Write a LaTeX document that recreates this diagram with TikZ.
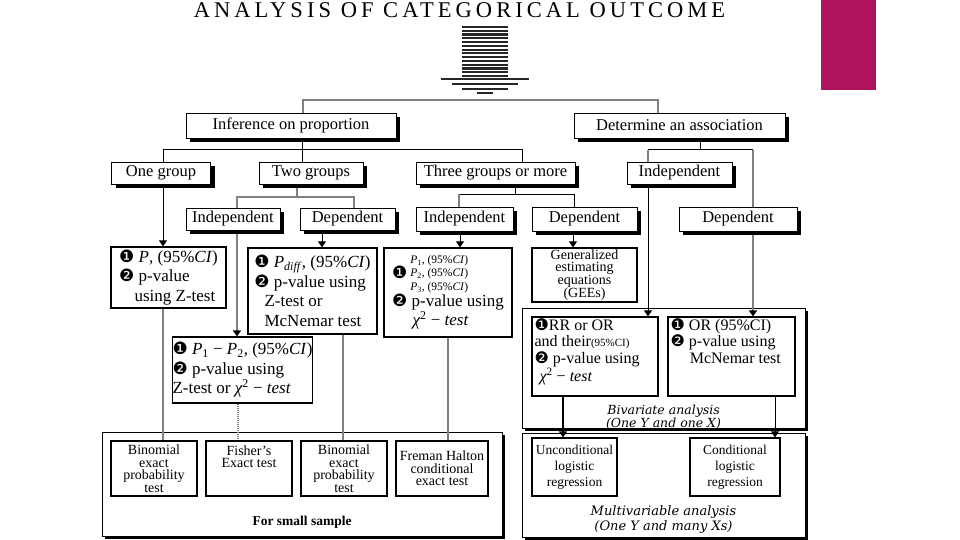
\documentclass[tikz,border=0pt]{standalone}
\usepackage{fontspec}
\setmainfont{Liberation Serif}
\newfontfamily\dej{DejaVu Sans}
\newfontfamily\dsi{DejaVu Serif}
\newfontfamily\ttl[LetterSpace=18]{Liberation Serif}
\usetikzlibrary{arrows.meta,shadows}
\definecolor{mag}{RGB}{176,19,94}
\pgfdeclarelayer{back}
\pgfdeclarelayer{mid}
\pgfsetlayers{back,mid,main}
\begin{document}
\begin{tikzpicture}[x=1pt,y=-1pt,
  lbl/.style={draw,fill=white,line width=0.8pt,inner sep=0pt,
    font=\fontsize{16.5}{19}\selectfont,
    drop shadow={shadow xshift=4pt,shadow yshift=-4pt,fill=black,opacity=1}},
  res/.style={draw,fill=white,line width=1.2pt,inner sep=0pt,align=left,
    font=\fontsize{17}{19.5}\selectfont},
  sm/.style={draw,fill=white,line width=1.2pt,inner sep=0pt,align=center,
    font=\fontsize{14}{12.5}\selectfont},
  cont/.style={draw,fill=white,line width=0.8pt,
    drop shadow={shadow xshift=3pt,shadow yshift=-3pt,fill=black,opacity=1}},
  txt/.style={inner sep=0pt,align=left},
  bline/.style={draw=black,line width=1pt},
  bthick/.style={draw=black,line width=2pt},
  gthick/.style={draw=gray,line width=2.8pt},
  gthin/.style={draw=gray,line width=1.4pt},
  gdot/.style={draw=gray,line width=2pt,dash pattern=on 1pt off 1pt},
  arr/.style={-{Triangle[width=8pt,length=6pt,color=black]}},
  stripe/.style={draw=black!85,line width=2.2pt}
]
\useasboundingbox (0,0) rectangle (960,540);
\begin{pgfonlayer}{back}
\fill[white] (0,0) rectangle (960,540);
\end{pgfonlayer}

% decoration
\fill[mag] (821,0) rectangle (876,90);
\node[font=\ttl\fontsize{22.5}{22.5}\selectfont,inner sep=0pt] (title) at (459.5,10) {ANALYSIS OF CATEGORICAL OUTCOME};
\foreach \k in {0,...,13}{\draw[stripe] (462,27+3.77*\k) -- (508,27+3.77*\k);}
\draw[stripe] (441,79) -- (529,79);
\draw[stripe] (452,84) -- (518,84);
\draw[stripe] (462,89) -- (508,89);
\draw[stripe] (477,93) -- (493,93);

% containers
\begin{pgfonlayer}{back}
\node[cont,minimum width=400pt,minimum height=104pt] (small) at (302,484) {};
\node[cont,minimum width=283pt,minimum height=120pt] (biv) at (663.5,368) {};
\node[cont,minimum width=283pt,minimum height=104pt] (mult) at (663.5,485) {};
\node[inner sep=0pt,font=\bfseries\fontsize{13.5}{13.5}\selectfont] (smallT) at (302,522) {For small sample};
\node[inner sep=0pt,align=center,font=\dsi\itshape\fontsize{12.5}{13}\selectfont] (bivT) at (663.5,417) {Bivariate analysis\\(One Y and one X)};
\node[inner sep=0pt,align=center,font=\dsi\itshape\fontsize{13}{15}\selectfont] (multT) at (663.5,520) {Multivariable analysis\\(One Y and many Xs)};
\end{pgfonlayer}

% label boxes
\node[lbl,minimum width=210pt,minimum height=25pt] (inf) at (291,125.5) {Inference on proportion};
\node[lbl,minimum width=211pt,minimum height=25pt] (det) at (679.5,125.5) {Determine an association};
\node[lbl,minimum width=99pt,minimum height=22pt] (one) at (161,173) {One group};
\node[lbl,minimum width=104pt,minimum height=22pt] (two) at (311,173) {Two groups};
\node[lbl,minimum width=159pt,minimum height=22pt] (three) at (495.5,173) {Three groups or more};
\node[lbl,minimum width=105pt,minimum height=22pt] (indA) at (679.5,173) {Independent};
\node[lbl,minimum width=94pt,minimum height=22pt] (ind2) at (233,219) {Independent};
\node[lbl,minimum width=95pt,minimum height=22pt] (dep2) at (347.5,219) {Dependent};
\node[lbl,minimum width=97pt,minimum height=24pt] (ind3) at (464.5,219) {Independent};
\node[lbl,minimum width=105pt,minimum height=24pt] (dep3) at (584.5,219) {Dependent};
\node[lbl,minimum width=118pt,minimum height=24pt] (depA) at (738,219) {Dependent};

% coordinates
\coordinate (t1) at (303,100); \coordinate (t2) at (658,100);
\coordinate (a0) at (163,150); \coordinate (a1) at (302,150); \coordinate (a3) at (522,150);
\coordinate (h0) at (297,197); \coordinate (h1) at (237,197); \coordinate (h2) at (354,197);
\coordinate (c0) at (515,194); \coordinate (c1) at (459,194); \coordinate (c2) at (574,194);
\coordinate (d0) at (700,150); \coordinate (d1) at (648,150); \coordinate (d2) at (753,150);
\coordinate (e1) at (322,0); \coordinate (e2) at (460,0); \coordinate (e3) at (573,0);
\coordinate (f1) at (238,0); \coordinate (f2) at (343,0); \coordinate (f3) at (448,0);
\coordinate (g1) at (563,0); \coordinate (g2) at (775,0);

% result boxes
\node[res,minimum width=115pt,minimum height=61pt] (pbox) at (168.5,277.5)
  {{\dej❶} \textit{P}, (95\%\textit{CI})\\{\dej❷} p-value\\\hspace*{0.9em}using Z-test};
\node[res,minimum width=129pt,minimum height=86pt] (pdiff) at (312.5,291)
  {{\dej❶} \textit{P}\textsubscript{\textit{diff}}, (95\%\textit{CI})\\{\dej❷} p-value using\\\hspace*{0.6em}Z-test or\\\hspace*{0.6em}McNemar test};
\node[res,minimum width=139pt,minimum height=66pt] (p12) at (242.5,370)
  {{\dej❶} \textit{P}\textsubscript{1} − \textit{P}\textsubscript{2}, (95\%\textit{CI})\\{\dej❷}\ p-value using\\Z-test or {\itshape χ}\textsuperscript{2} − \textit{test}};
\node[res,minimum width=128pt,minimum height=89pt] (p3) at (448,292.5)
  {{\dej❶}\,\parbox[c]{90pt}{\fontsize{11.5}{13.5}\selectfont\textit{P}\textsubscript{1}, (95\%\textit{CI})\\\textit{P}\textsubscript{2}, (95\%\textit{CI})\\\textit{P}\textsubscript{3}, (95\%\textit{CI})}\\{\dej❷} p-value using\\\hspace*{1.2em}{\itshape χ}\textsuperscript{2} − \textit{test}};
\node[sm,minimum width=105pt,minimum height=54pt,font=\fontsize{14}{12.5}\selectfont] (gee) at (584.5,275)
  {Generalized\\estimating\\equations\\(GEEs)};
\node[res,minimum width=126pt,minimum height=79pt] (rr) at (595,356.5) {};
\node[txt,anchor=north west,font=\fontsize{16}{16.5}\selectfont] (rrT) at ([xshift=3pt,yshift=-2pt]rr.north west)
  {{\dej❶}RR or OR\\and their{\fontsize{11}{11}\selectfont(95\%CI)}\\{\dej❷} p-value using\\\hspace*{5pt}{\itshape χ}\textsuperscript{2} − \textit{test}};
\node[res,minimum width=127pt,minimum height=79pt] (orb) at (731.5,356.5) {};
\node[txt,anchor=north west,font=\fontsize{16}{16.5}\selectfont] (orbT) at ([xshift=3pt,yshift=-2pt]orb.north west)
  {{\dej❶} OR (95\%CI)\\{\dej❷} p-value using\\\hspace*{1.2em}McNemar test};
\node[sm,minimum width=85pt,minimum height=58pt,font=\fontsize{13.5}{16}\selectfont] (unc) at (574.5,467) {Unconditional\\logistic\\regression};
\node[sm,minimum width=90pt,minimum height=58pt,font=\fontsize{13.5}{16}\selectfont] (cond) at (735,467) {Conditional\\logistic\\regression};
\node[sm,minimum width=86pt,minimum height=55pt] (bin1) at (154,468.5) {Binomial\\exact\\probability\\test};
\node[sm,minimum width=86pt,minimum height=55pt] (fish) at (249,468.5) {};
\node[inner sep=0pt,align=center,anchor=north,font=\fontsize{14}{12.5}\selectfont] (fishT) at ([yshift=-5pt]fish.north) {Fisher's\\Exact test};
\node[sm,minimum width=86pt,minimum height=55pt] (bin2) at (344,468.5) {Binomial\\exact\\probability\\test};
\node[sm,minimum width=92pt,minimum height=55pt] (frem) at (442,468.5) {Freman Halton\\conditional\\exact test};

% connectors
\begin{pgfonlayer}{mid}
\draw[gthin] (t1 |- inf.north) -- (t1) -- (t2) -- (t2 |- det.north);
\draw[bline] (a1 |- inf.south) -- (a1 |- two.north);
\draw[bline] (a0 |- one.north) -- (a0) -- (a3) -- (a3 |- three.north);
\draw[gthin] (h0 |- two.south) -- (h0);
\draw[gthin] (h1 |- ind2.north) -- (h1) -- (h2) -- (h2 |- dep2.north);
\draw[bline] (c0 |- three.south) -- (c0);
\draw[bline] (c1) -- (c2) -- (c2 |- dep3.north);
\draw[gthick] (c1) -- (c1 |- ind3.north);
\draw[bline] (d0 |- det.south) -- (d0);
\draw[bline] (d1) -- (d2);
\draw[gthick] (d1) -- (d1 |- indA.north);
\draw[gthick] (d2) -- (d2 |- depA.north);

\draw[bline,arr] (a0 |- one.south) -- (a0 |- pbox.north);
\draw[gthick,arr] (h1 |- ind2.south) -- (h1 |- p12.north);
\draw[bline,arr] (e1 |- dep2.south) -- (e1 |- pdiff.north);
\draw[bline,arr] (e2 |- ind3.south) -- (e2 |- p3.north);
\draw[bline,arr] (e3 |- dep3.south) -- (e3 |- gee.north);
\draw[bline,arr] (d1 |- indA.south) -- (d1 |- rr.north);
\draw[gthick,arr] (d2 |- depA.south) -- (d2 |- orb.north);

\draw[gthick] (a0 |- pbox.south) -- (a0 |- bin1.north);
\draw[gdot] (f1 |- p12.south) -- (f1 |- fish.north);
\draw[gthick] (f2 |- pdiff.south) -- (f2 |- bin2.north);
\draw[gthin] (f3 |- p3.south) -- (f3 |- frem.north);
\draw[bthick,arr] (g1 |- rr.south) -- (g1 |- unc.north);
\draw[bline,arr] (g2 |- orb.south) -- (g2 |- cond.north);
\end{pgfonlayer}
\end{tikzpicture}
\end{document}
